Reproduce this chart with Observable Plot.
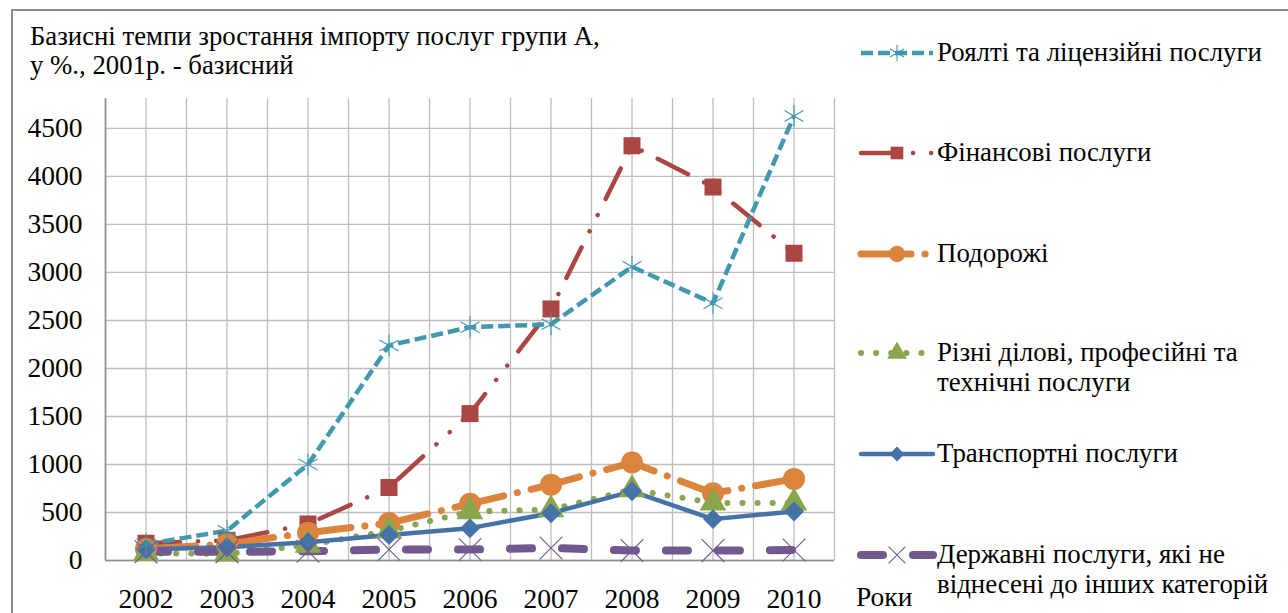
<!DOCTYPE html>
<html>
<head>
<meta charset="utf-8">
<script src="https://cdn.jsdelivr.net/npm/d3@7"></script>
<script src="https://cdn.jsdelivr.net/npm/@observablehq/plot@0.6"></script>
<style>
  body { margin: 0; background: #fff; }
  #wrap { position: relative; width: 1288px; height: 613px; overflow: hidden; background: #fff; color: #000; }
  #wrap > svg { position: absolute; left: 0; top: 0; }
  .t { position: absolute; white-space: nowrap; color: #000; }
  #overlay { pointer-events: none; }
</style>
</head>
<body>
<div id="wrap"></div>
<script>
// ---------- data ----------
const years = [2002, 2003, 2004, 2005, 2006, 2007, 2008, 2009, 2010];
const royalty   = [170, 310, 1000, 2240, 2430, 2460, 3060, 2680, 4630];
const financial = [180, 210, 380, 760, 1530, 2620, 4320, 3890, 3200];
const travel    = [120, 170, 290, 390, 590, 790, 1020, 700, 850];
const business  = [75, 70, 160, 310, 510, 530, 740, 600, 600];
const transport = [117, 138, 190, 266, 337, 493, 720, 431, 510];
const government = [90, 90, 96, 114, 114, 131, 103, 103, 110];

const seriesNames = [
  "Роялті та ліцензійні послуги",
  "Фінансові послуги",
  "Подорожі",
  "Різні ділові, професійні та технічні послуги",
  "Транспортні послуги",
  "Державні послуги, які не віднесені до інших категорій"
];
const legendLines = [
  ["Роялті та ліцензійні послуги"],
  ["Фінансові послуги"],
  ["Подорожі"],
  ["Різні ділові, професійні та", "технічні послуги"],
  ["Транспортні послуги"],
  ["Державні послуги, які не", "віднесені до інших категорій"]
];
const yTicks = [0, 500, 1000, 1500, 2000, 2500, 3000, 3500, 4000, 4500];
const titleLines = ["Базисні темпи зростання імпорту послуг групи А,", "у %., 2001р. - базисний"];
const xAxisTitle = "Роки";

// ---------- fonts & sizes (fit to reference widths) ----------
const FAM = '"Liberation Serif", serif';
const ctx = document.createElement("canvas").getContext("2d");
function fit(text, target) {
  ctx.font = `100px ${FAM}`;
  return 100 * target / ctx.measureText(text).width;
}
const TITLE_FS = fit(titleLines[0], 570);
const LEGEND_FS = fit(legendLines[0][0], 325);
const TICK_FS = fit("4500", 55);

// ---------- styles ----------
const seriesValues = [royalty, financial, travel, business, transport, government];
const styles = [
  {color: "#4198AF", width: 4.5, dash: "12,5", cap: "butt", symbol: "asterisk", r: 10.4, filled: false},
  {color: "#AA4643", width: 4.5, dash: "34,18,0.1,18,0.1,18", cap: "round", symbol: "square", r: 9.6, filled: true},
  {color: "#DB843D", width: 7, dash: "50,14,0.1,14", cap: "round", symbol: "circle", r: 11, filled: true},
  {color: "#89A54E", width: 6, dash: "0.1,15", cap: "round", symbol: "triangle", r: 9.9, filled: true},
  {color: "#4572A7", width: 4.5, dash: null, cap: "round", symbol: "diamond2", r: 9, filled: true},
  {color: "#71588F", width: 8, dash: "22,30", cap: "round", symbol: "times", r: 10.4, filled: false}
];
const drawOrder = [1, 2, 3, 4, 5, 0];

const series = seriesNames.map((name, k) => ({
  name,
  style: styles[k],
  points: years.map((yr, i) => ({year: yr, value: seriesValues[k][i], name}))
}));

const xMin = years[0] - 0.5, xMax = years[years.length - 1] + 0.5;
const gridXs = d3.range(xMin, xMax + 0.01, 0.5);

const marks = [
  Plot.ruleX(gridXs, {stroke: "#bdbdbd", strokeWidth: 1.3}),
  Plot.ruleY(yTicks, {stroke: "#bdbdbd", strokeWidth: 1.3}),
  Plot.ruleX([xMin], {stroke: "#8c8c8c", strokeWidth: 1.6}),
  Plot.ruleY([0], {stroke: "#8c8c8c", strokeWidth: 1.6}),
  Plot.axisY(yTicks, {tickSize: 0, tickPadding: 23, fontSize: TICK_FS, fontFamily: FAM,
    label: null, fill: "#000", tickFormat: d => String(d)}),
  Plot.axisX(years, {tickSize: 0, tickPadding: 28, fontSize: TICK_FS, fontFamily: FAM,
    label: null, tickFormat: d => String(d), fill: "#000"})
];
for (const k of drawOrder) {
  const s = series[k], st = s.style;
  marks.push(Plot.line(s.points, {
    x: "year", y: "value", stroke: st.color, strokeWidth: st.width,
    strokeDasharray: st.dash, strokeLinecap: st.cap, strokeLinejoin: "round"
  }));
}
for (const k of drawOrder) {
  const s = series[k], st = s.style;
  marks.push(Plot.dot(s.points, {
    x: "year", y: "value", r: st.r, symbol: st.symbol,
    fill: st.filled ? st.color : "none",
    stroke: st.color, strokeWidth: st.filled ? 0 : 1.1
  }));
}

const chart = Plot.plot({
  width: 1288,
  height: 613,
  marginLeft: 105,
  marginRight: 454,
  marginTop: 98,
  marginBottom: 53,
  x: {type: "linear", domain: [xMin, xMax]},
  y: {domain: [0, 4812]},
  style: {fontFamily: FAM, fontSize: TICK_FS + "px", color: "#000", background: "#fff"},
  marks
});
const wrap = document.getElementById("wrap");
wrap.appendChild(chart);

// ---------- overlay: frame + legend swatches ----------
const ov = d3.select(wrap).append("svg")
  .attr("id", "overlay").attr("width", 1288).attr("height", 613);

ov.append("path").attr("d", "M12,613 V10 H1288")
  .attr("fill", "none").attr("stroke", "#8c8c8c").attr("stroke-width", 2);

const rowY = [53, 153, 254, 353, 454, 555];
series.forEach((s, k) => {
  const st = s.style;
  const g = ov.append("g").attr("transform", `translate(0,${rowY[k]})`);
  g.append("line").attr("x1", 861).attr("x2", 933).attr("y1", 0).attr("y2", 0)
    .attr("stroke", st.color).attr("stroke-width", st.width)
    .attr("stroke-dasharray", st.dash).attr("stroke-linecap", st.cap);
  const sym = d3.symbol().type({
    asterisk: d3.symbolAsterisk, square: d3.symbolSquare, circle: d3.symbolCircle,
    triangle: d3.symbolTriangle, diamond2: d3.symbolDiamond2, times: d3.symbolTimes
  }[st.symbol]).size(Math.PI * st.r * st.r * 0.55);
  g.append("path").attr("transform", "translate(897,0)").attr("d", sym())
    .attr("fill", st.filled ? st.color : "none").attr("stroke", st.color)
    .attr("stroke-width", st.filled ? 0 : 1.1);
});

// ---------- HTML texts: title, legend labels, axis title ----------
function htmlText(x, baseline, text, size) {
  const div = document.createElement("div");
  div.className = "t";
  div.style.fontFamily = FAM;
  div.style.left = x + "px";
  div.style.fontSize = size + "px";
  div.style.lineHeight = size + "px";
  div.style.top = (baseline - 0.8375 * size) + "px";
  div.textContent = text;
  wrap.appendChild(div);
}
titleLines.forEach((line, i) => htmlText(30, 45 + i * 29.5, line, TITLE_FS));
series.forEach((s, k) => {
  legendLines[k].forEach((line, j) => htmlText(937, rowY[k] + 9 + j * 30, line, LEGEND_FS));
});
htmlText(856, 606, xAxisTitle, TICK_FS);
</script>
</body>
</html>
